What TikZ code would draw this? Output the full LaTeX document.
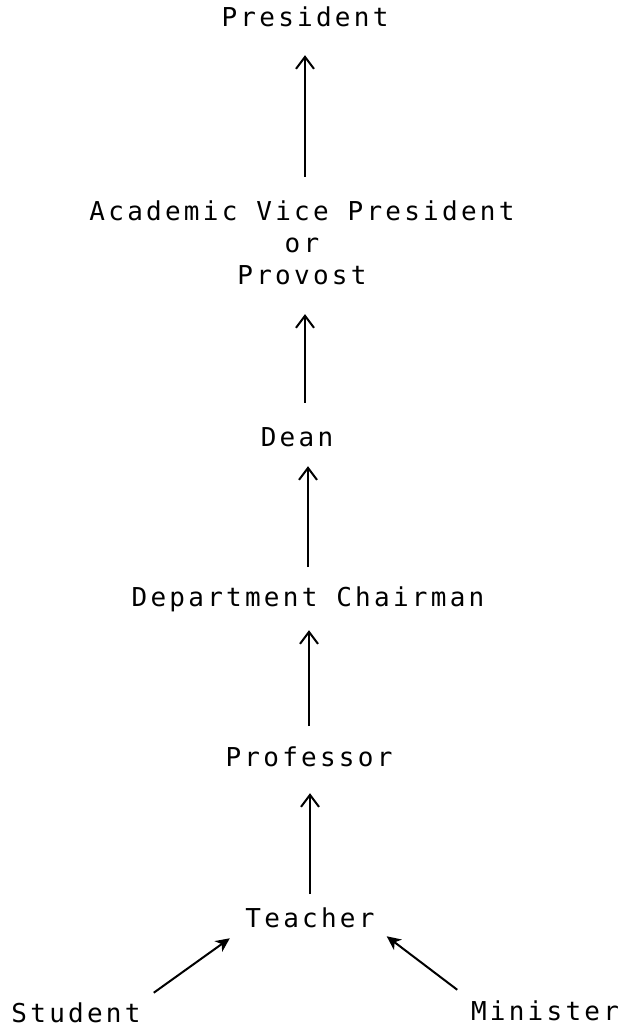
\documentclass[tikz,border=0pt]{standalone}
\usepackage{fontspec}
\usetikzlibrary{arrows.meta}
\newfontfamily\printfont[LetterSpace=12.5]{DejaVu Sans Mono}
\tikzset{
  rank/.style={inner sep=0pt, text depth=0pt, font=\printfont\fontsize{26}{32}\selectfont},
  up/.style={line width=2pt, -{Straight Barb[length=12pt, width=18pt, line width=2pt]}},
  feed/.style={line width=2pt, -{Stealth[length=14pt, width=13pt, inset=4pt]}}
}

\begin{document}
\begin{tikzpicture}[x=1pt, y=-1pt]
  \useasboundingbox (0,0) rectangle (628,1027);
  \node[rank, anchor=base] (pres) at (305,27) {President};
  \node[rank, anchor=north, align=center] (avp) at (302,201) {Academic Vice President\\or\\Provost};
  \node[rank, anchor=base] (dean) at (297,446) {Dean};
  \node[rank, anchor=base] (chair) at (308,606) {Department Chairman};
  \node[rank, anchor=base] (prof) at (309,766) {Professor};
  \node[rank, anchor=base] (teacher) at (310,927) {Teacher};
  \node[rank, anchor=base] (student) at (76,1022) {Student};
  \node[rank, anchor=base] (minister) at (545,1020) {Minister};

  \draw[up, shorten <=13pt, shorten >=27pt] (teacher.north) -- (teacher.north |- prof.south);
  \draw[up, shorten <=20pt, shorten >=24pt] (prof.north) -- (prof.north |- chair.south);
  \draw[up, shorten <=19pt, shorten >=20pt] (chair.north) -- (chair.north |- dean.south);
  \draw[up, shorten <=24pt, shorten >=29pt] (dean.north -| pres.south) -- (pres.south |- avp.south);
  \draw[up, shorten <=24pt, shorten >=28pt] (avp.north -| pres.south) -- (pres.south);

  \draw[feed, shorten <=16pt, shorten >=19pt] (student.north east) -- (teacher.south west);
  \draw[feed, shorten <=17pt, shorten >=15pt] (minister.north west) -- (teacher.south east);
\end{tikzpicture}
\end{document}
